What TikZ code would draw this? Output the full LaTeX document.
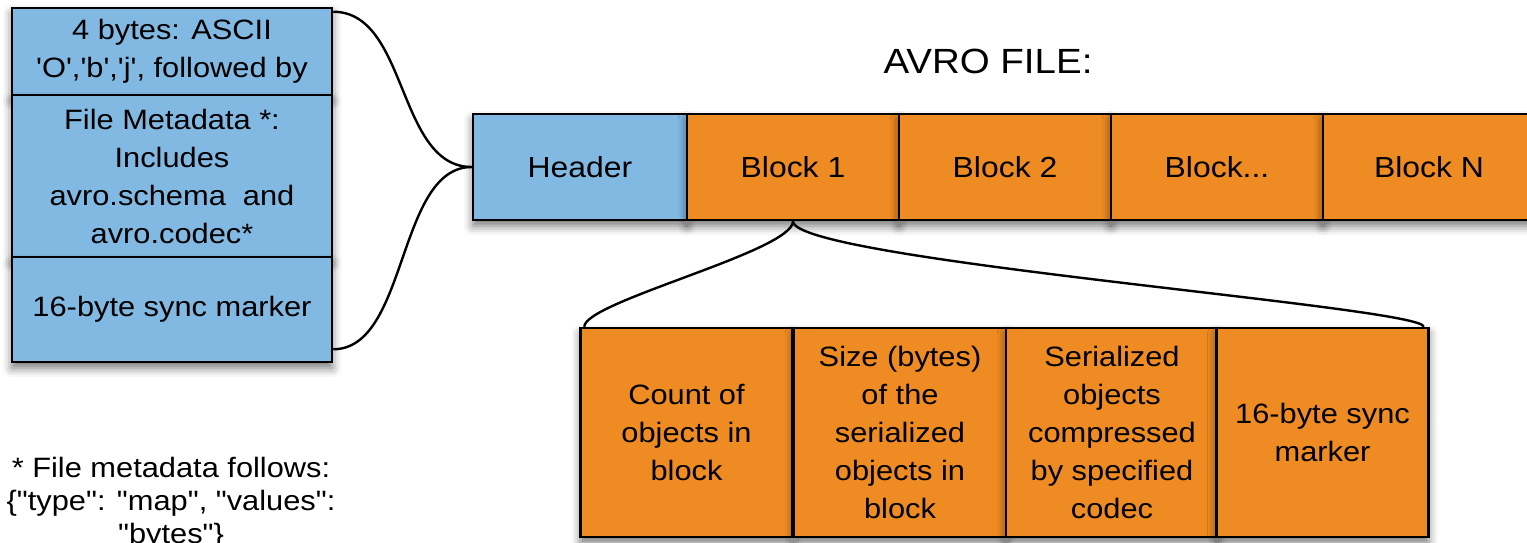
\documentclass[tikz,border=0pt]{standalone}
\usepackage{fontspec}
\newfontfamily\bodyfont{Liberation Sans}[FakeStretch=1.1]
\usetikzlibrary{calc,shadows.blur}
\definecolor{hdrblue}{RGB}{130,185,227}
\definecolor{blkorange}{RGB}{238,139,34}
\begin{document}
\begin{tikzpicture}[x=1pt,y=-1pt,
  cell/.style={draw=black, line width=2.5pt, inner sep=0pt, align=center,
    font=\bodyfont\fontsize{28}{38}\selectfont,
    blur shadow={shadow xshift=0pt, shadow yshift=-6pt, shadow blur radius=9pt, shadow opacity=55}},
  bluecell/.style={cell, fill=hdrblue},
  orangecell/.style={cell, fill=blkorange},
  rowcell/.style={minimum width=212, minimum height=106, font=\bodyfont\fontsize{29}{36}\selectfont},
  partcell/.style={orangecell, minimum width=212, minimum height=209},
  link/.style={draw=black, line width=2.4pt},
  plain/.style={inner sep=0pt, align=center}]
\useasboundingbox (0,0) rectangle (1527,542);

% header layout stack
\node[bluecell, minimum width=320, minimum height=87] (magic) at (172,51.5)
  {4 bytes: ASCII\\'O','b','j', followed by};
\node[bluecell, minimum width=320, minimum height=162] (meta) at (172,176)
  {File Metadata *:\\Includes\\avro.schema\ \ and\\avro.codec*};
\node[bluecell, minimum width=320, minimum height=105] (sync) at (172,309.5)
  {16-byte sync marker};

% footnote
\node[plain, font=\bodyfont\fontsize{28}{33}\selectfont] (note) at (171,503)
  {* File metadata follows:\\\{"type": "map", "values":\\"bytes"\}};

% title
\node[plain, anchor=base, font=\bodyfont\fontsize{35}{40}\selectfont] (title) at (988,73) {AVRO FILE:};

% file row
\node[bluecell, rowcell, minimum width=214] (header) at (580,167) {Header};
\node[orangecell, rowcell] (block1) at (793,167) {Block 1};
\node[orangecell, rowcell] (block2) at (1005,167) {Block 2};
\node[orangecell, rowcell] (blockdots) at (1217,167) {Block...};
\node[orangecell, rowcell] (blockn) at (1429,167) {Block N};

% block layout
\node[partcell] (count) at (686.5,432.5) {Count of\\objects in\\block};
\node[partcell] (size) at (900,432.5) {Size (bytes)\\of the\\serialized\\objects in\\block};
\node[partcell] (data) at (1112,432.5) {Serialized\\objects\\compressed\\by specified\\codec};
\node[partcell] (bsync) at (1322.5,432.5) {16-byte sync\\marker};

% braces
\coordinate (lt) at ($(magic.north east)+(0,5)$);
\coordinate (lb) at ($(sync.south east)+(0,-14)$);
\draw[link] (lt) .. controls +(75,0) and +(-75,0) .. (header.west);
\draw[link] (lb) .. controls +(75,0) and +(-75,0) .. (header.west);

\coordinate (bl) at ($(count.north west)+(5,0)$);
\coordinate (br) at ($(bsync.north east)+(-6,0)$);
\draw[link] (block1.south) .. controls +(0,30) and +(0,-25) .. (bl);
\draw[link] (block1.south) .. controls +(0,39) and +(0,-20) .. (br);
\end{tikzpicture}
\end{document}
